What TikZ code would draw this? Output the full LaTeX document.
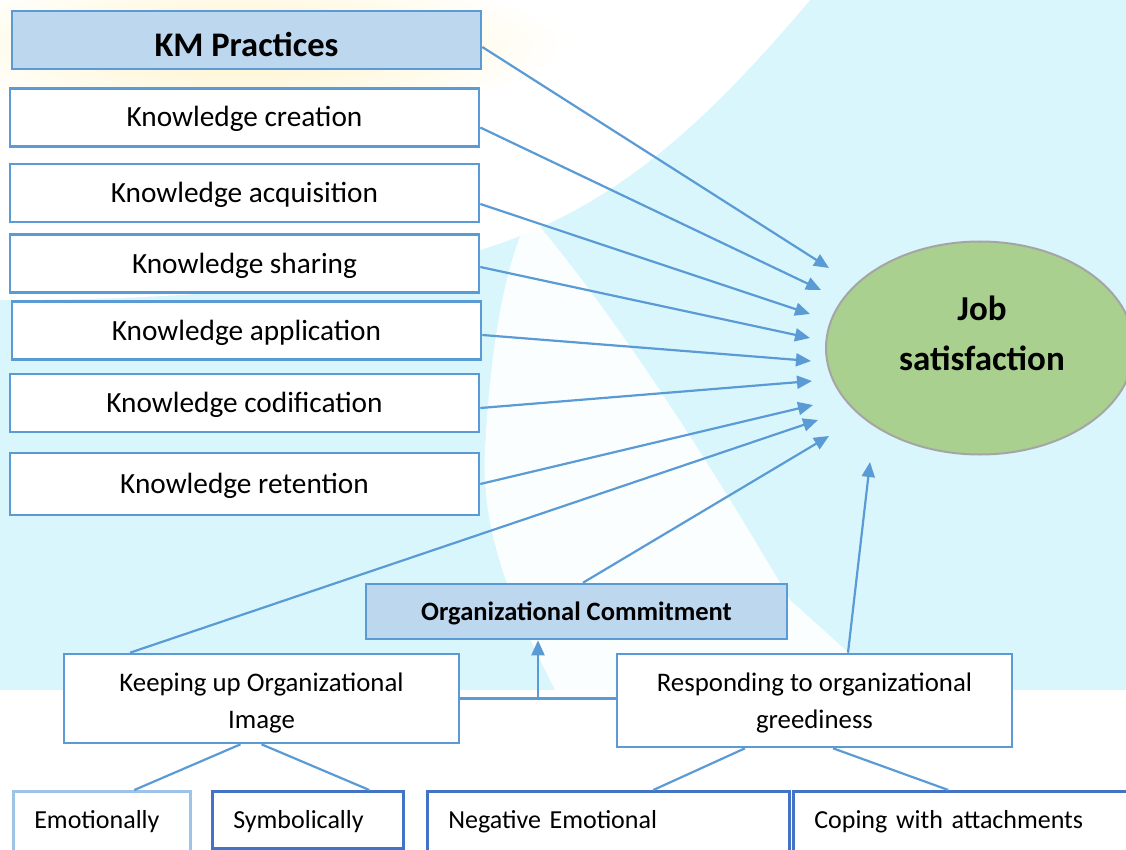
\documentclass[tikz,border=0pt]{standalone}
\usepackage{fontspec}
\setmainfont{Carlito}
\usetikzlibrary{shapes.geometric,arrows.meta}

\definecolor{kmblue}{HTML}{5B9BD5}
\definecolor{headfill}{HTML}{BDD7EE}
\definecolor{leafblue}{HTML}{4472C4}
\definecolor{paleblue}{HTML}{9DC3E6}
\definecolor{jobfill}{HTML}{A9D08E}
\definecolor{jobline}{HTML}{A5A5A5}
\definecolor{skyback}{HTML}{D9F6FC}
\definecolor{sunhaze}{HTML}{FFF2C4}

\begin{document}
\begin{tikzpicture}[x=1pt,y=-1pt,
  box/.style={draw=kmblue,line width=2.6pt,fill=white,minimum width=469pt,minimum height=58pt,text height=19pt,text depth=0pt,font=\fontsize{29.3}{35}\selectfont},
  headbox/.style={box,fill=headfill,text height=34pt,font=\fontsize{34.5}{40}\selectfont\bfseries},
  twoline/.style={draw=kmblue,line width=2.6pt,fill=white,minimum width=395pt,align=center,text depth=0pt,font=\fontsize{26.8}{37}\selectfont},
  leaf/.style={draw=leafblue,line width=2.6pt,fill=white,anchor=north west,align=left,inner xsep=21pt,inner ysep=20pt,text height=17pt,text depth=50pt,font=\fontsize{26}{31}\selectfont},
  link/.style={kmblue,line width=2.2pt},
  arr/.style={link,-{Triangle[length=15pt,width=13pt]}}]
\useasboundingbox (0,0) rectangle (1126,850);

% background wash
\fill[skyback] (0,0) rectangle (1126,690);
\fill[white] (0,0) -- (810,0) .. controls (700,130) and (610,210) .. (480,250) .. controls (320,295) and (120,300) .. (0,300) -- cycle;
\shade[inner color=sunhaze,outer color=white] (240,45) ellipse (330 and 75);
\fill[white,opacity=0.9] (530,215) .. controls (620,320) and (720,480) .. (790,600) -- (890,690) -- (555,690) .. controls (520,620) and (480,540) .. (485,450) .. controls (490,350) and (505,260) .. (530,215) -- cycle;

% KM practices
\node[headbox] (km) at (246.5,40) {KM Practices};
\node[box] (creation) at (244.5,117.5) {Knowledge creation};
\node[box] (acquisition) at (244.5,193) {Knowledge acquisition};
\node[box] (sharing) at (244.5,263.5) {Knowledge sharing};
\node[box] (application) at (246.5,330.5) {Knowledge application};
\node[box] (codification) at (244.5,403) {Knowledge codification};
\node[box,minimum height=62pt] (retention) at (244.5,484) {Knowledge retention};

% outcome
\node[ellipse,draw=jobline,line width=2pt,fill=jobfill,minimum width=308pt,minimum height=213pt] (job) at (980,348) {};
\node[font=\fontsize{35}{50}\selectfont\bfseries,align=center] (jobtext) at (982,333) {Job\\satisfaction};

% commitment part
\node[headbox,minimum width=421pt,minimum height=55pt,text height=18pt,font=\fontsize{26.5}{30}\selectfont\bfseries] (commit) at (576.5,611.5) {Organizational Commitment};
\node[twoline,minimum height=89pt,text height=59pt] (keep) at (261.5,698.5) {Keeping up Organizational\\Image};
\node[twoline,minimum height=93pt,text height=55pt] (respond) at (814.5,700.5) {Responding to organizational\\greediness};

\node[leaf,draw=paleblue,text width=135pt] (emot) at (12,790) {Emotionally};
\node[leaf,text width=149pt,text depth=0pt] (symb) at (211,790) {Symbolically};
\node[leaf,text width=320pt] (neg) at (426,790) {Negative Emotional};
\node[leaf,text width=318pt] (coping) at (792,790) {Coping with attachments};

% arrow ends in front of the ellipse
\coordinate (t1) at (829,268);
\coordinate (t2) at (821,290);
\coordinate (t3) at (810,314);
\coordinate (t4) at (810,338);
\coordinate (t5) at (811,361);
\coordinate (t6) at (812,381);
\coordinate (t7) at (813,405);
\coordinate (t8) at (818,420);
\coordinate (t9) at (829,436);
\coordinate (t10) at (870,462);

\draw[arr] ([yshift=-7pt]km.east) -- (t1);
\draw[arr] ([yshift=-10pt]creation.east) -- (t2);
\draw[arr] ([yshift=-11pt]acquisition.east) -- (t3);
\draw[arr] ([yshift=-3.5pt]sharing.east) -- (t4);
\draw[arr] ([yshift=-4.5pt]application.east) -- (t5);
\draw[arr] ([yshift=-5pt]codification.east) -- (t6);
\draw[arr] (retention.east) -- (t7);
\draw[arr] ([xshift=-131.5pt]keep.north) -- (t8);
\draw[arr] ([xshift=6.5pt]commit.north) -- (t9);
\draw[arr] ([xshift=33.5pt]respond.north) -- (t10);

\draw[link] (keep.east) -- (keep.east -| respond.west);
\draw[arr] ([xshift=-38.5pt]commit.south |- keep.east) -- ([xshift=-38.5pt]commit.south);

\draw[link] ([xshift=-21pt]keep.south) -- ([xshift=32.5pt]emot.north);
\draw[link] (keep.south) -- ([xshift=61.5pt]symb.north);
\draw[link] ([xshift=-69.5pt]respond.south) -- ([xshift=45pt]neg.north);
\draw[link] ([xshift=18.5pt]respond.south) -- ([xshift=-25pt]coping.north);
\end{tikzpicture}
\end{document}
